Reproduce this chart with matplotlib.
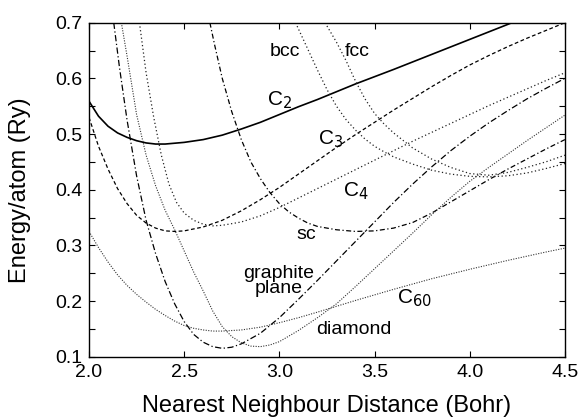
import matplotlib.pyplot as plt
from matplotlib.ticker import MultipleLocator

plt.rcParams['font.family'] = ['Liberation Sans', 'DejaVu Sans']

# C2 dimer (solid)
x_c2 = [2.00, 2.05, 2.10, 2.15, 2.20, 2.25, 2.30, 2.35, 2.40, 2.50, 2.60, 2.70, 2.80,
        2.90, 3.00, 3.10, 3.20, 3.40, 3.60, 3.80, 4.00, 4.20, 4.30]
y_c2 = [0.559, 0.532, 0.514, 0.502, 0.494, 0.488, 0.484, 0.482, 0.482, 0.485, 0.490,
        0.498, 0.509, 0.521, 0.535, 0.549, 0.562, 0.590, 0.616, 0.643, 0.670, 0.697, 0.711]

# C3 (dashed)
x_c3 = [2.00, 2.05, 2.10, 2.15, 2.20, 2.25, 2.30, 2.35, 2.40, 2.45, 2.50, 2.60, 2.70,
        2.80, 2.90, 3.00, 3.10, 3.20, 3.30, 3.40, 3.50, 3.60, 3.70, 3.80, 3.90, 4.00,
        4.10, 4.20, 4.30, 4.40, 4.50]
y_c3 = [0.530, 0.478, 0.437, 0.402, 0.375, 0.354, 0.340, 0.331, 0.326, 0.325, 0.326,
        0.333, 0.345, 0.362, 0.382, 0.404, 0.428, 0.452, 0.476, 0.499, 0.521, 0.543,
        0.564, 0.585, 0.605, 0.624, 0.641, 0.657, 0.672, 0.686, 0.700]

# C4 (dotted)
x_c4 = [2.265, 2.30, 2.34, 2.38, 2.42, 2.46, 2.50, 2.55, 2.60, 2.65, 2.70, 2.80, 2.90,
        3.00, 3.10, 3.20, 3.30, 3.40, 3.50, 3.60, 3.70, 3.80, 3.90, 4.00, 4.10, 4.20,
        4.30, 4.40, 4.50]
y_c4 = [0.700, 0.610, 0.530, 0.462, 0.410, 0.377, 0.358, 0.345, 0.338, 0.335, 0.336,
        0.342, 0.353, 0.368, 0.385, 0.402, 0.419, 0.436, 0.453, 0.470, 0.487, 0.503,
        0.519, 0.535, 0.551, 0.566, 0.581, 0.596, 0.610]

# simple cubic (dash-dot)
x_sc = [2.635, 2.66, 2.70, 2.75, 2.80, 2.85, 2.90, 2.95, 3.00, 3.05, 3.10, 3.15, 3.20,
        3.30, 3.40, 3.50, 3.60, 3.70, 3.80, 3.90, 4.00, 4.10, 4.20, 4.30, 4.40, 4.50]
y_sc = [0.700, 0.660, 0.600, 0.540, 0.490, 0.450, 0.420, 0.395, 0.375, 0.360, 0.349,
        0.340, 0.334, 0.328, 0.325, 0.326, 0.331, 0.341, 0.358, 0.378, 0.398, 0.418,
        0.437, 0.455, 0.473, 0.490]

# graphite plane (dash-dot)
x_gr = [2.13, 2.16, 2.20, 2.25, 2.30, 2.35, 2.40, 2.45, 2.50, 2.55, 2.60, 2.65, 2.70,
        2.75, 2.80, 2.90, 3.00, 3.10, 3.20, 3.30, 3.40, 3.50, 3.60, 3.70, 3.80, 3.90,
        4.00, 4.10, 4.20, 4.30, 4.40, 4.50]
y_gr = [0.700, 0.620, 0.525, 0.425, 0.345, 0.285, 0.235, 0.195, 0.163, 0.140, 0.126,
        0.118, 0.115, 0.117, 0.123, 0.142, 0.170, 0.203, 0.237, 0.272, 0.307, 0.342,
        0.377, 0.410, 0.441, 0.470, 0.496, 0.520, 0.542, 0.563, 0.582, 0.600]

# diamond (fine dots)
x_dia = [2.17, 2.20, 2.25, 2.30, 2.35, 2.40, 2.45, 2.50, 2.55, 2.60, 2.65, 2.70, 2.75,
         2.80, 2.85, 2.90, 2.95, 3.00, 3.10, 3.20, 3.30, 3.40, 3.50, 3.60, 3.70, 3.80,
         3.90, 4.00, 4.10, 4.20, 4.30, 4.40, 4.50]
y_dia = [0.700, 0.640, 0.535, 0.462, 0.407, 0.363, 0.328, 0.290, 0.252, 0.218, 0.182,
         0.154, 0.136, 0.125, 0.119, 0.118, 0.121, 0.127, 0.147, 0.170, 0.195, 0.226,
         0.258, 0.290, 0.322, 0.355, 0.386, 0.415, 0.440, 0.464, 0.488, 0.511, 0.534]

# C60 (fine dots)
x_c60 = [2.00, 2.05, 2.10, 2.15, 2.20, 2.25, 2.30, 2.35, 2.40, 2.45, 2.50, 2.55, 2.60,
         2.65, 2.70, 2.80, 2.90, 3.00, 3.10, 3.20, 3.40, 3.60, 3.80, 4.00, 4.20, 4.40, 4.50]
y_c60 = [0.325, 0.296, 0.270, 0.247, 0.228, 0.212, 0.198, 0.185, 0.174, 0.164, 0.156,
         0.151, 0.148, 0.146, 0.146, 0.148, 0.153, 0.161, 0.170, 0.180, 0.201, 0.221,
         0.240, 0.257, 0.273, 0.288, 0.295]

# bcc (dots)
x_bcc = [3.085, 3.15, 3.20, 3.25, 3.30, 3.35, 3.40, 3.45, 3.50, 3.55, 3.60, 3.70, 3.80,
         3.90, 4.00, 4.10, 4.20, 4.30, 4.40, 4.50]
y_bcc = [0.700, 0.652, 0.615, 0.580, 0.550, 0.526, 0.507, 0.491, 0.478, 0.468, 0.459,
         0.446, 0.435, 0.428, 0.424, 0.423, 0.425, 0.430, 0.438, 0.447]

# fcc (dots)
x_fcc = [3.24, 3.30, 3.35, 3.40, 3.45, 3.50, 3.55, 3.60, 3.70, 3.80, 3.90, 4.00, 4.10,
         4.20, 4.30, 4.40, 4.50]
y_fcc = [0.700, 0.665, 0.632, 0.595, 0.563, 0.537, 0.518, 0.502, 0.475, 0.455, 0.440,
         0.429, 0.426, 0.431, 0.440, 0.450, 0.462]

fig = plt.figure(figsize=(5.79, 4.18), dpi=100)
ax = fig.add_axes([0.1537, 0.1467, 0.822, 0.799])

ax.plot(x_c2, y_c2, color='black', lw=1.2, linestyle='-')
ax.plot(x_c3, y_c3, color='black', lw=0.9, linestyle=(0, (3, 2)))
ax.plot(x_c4, y_c4, color='#222222', lw=0.9, linestyle=(0, (1, 2)))
ax.plot(x_sc, y_sc, color='black', lw=0.9, linestyle=(0, (4, 2, 1, 2)))
ax.plot(x_gr, y_gr, color='black', lw=0.9, linestyle=(0, (5, 2, 1, 2)))
ax.plot(x_dia, y_dia, color='#333333', lw=0.8, linestyle=(0, (1, 1.3)))
ax.plot(x_c60, y_c60, color='#333333', lw=0.8, linestyle=(0, (1, 1.3)))
ax.plot(x_bcc, y_bcc, color='#222222', lw=0.9, linestyle=(0, (1, 2)))
ax.plot(x_fcc, y_fcc, color='#222222', lw=0.9, linestyle=(0, (1, 2)))

fs = 14
ax.text(3.03, 0.648, 'bcc', fontsize=fs, ha='center', va='center')
ax.text(3.41, 0.648, 'fcc', fontsize=fs, ha='center', va='center')
ax.text(3.00, 0.561, r'C$_2$', fontsize=fs + 1, ha='center', va='center')
ax.text(3.27, 0.490, r'C$_3$', fontsize=fs + 1, ha='center', va='center')
ax.text(3.40, 0.398, r'C$_4$', fontsize=fs + 1, ha='center', va='center')
ax.text(3.14, 0.319, 'sc', fontsize=fs, ha='center', va='center')
ax.text(2.995, 0.236, 'graphite\nplane', fontsize=fs, ha='center', va='center',
        linespacing=0.8)
ax.text(3.71, 0.205, r'C$_{60}$', fontsize=fs + 1, ha='center', va='center')
ax.text(3.39, 0.149, 'diamond', fontsize=fs, ha='center', va='center')

ax.set_xlim(2.0, 4.5)
ax.set_ylim(0.1, 0.7)
ax.xaxis.set_major_locator(MultipleLocator(0.5))
ax.yaxis.set_major_locator(MultipleLocator(0.1))
ax.yaxis.set_minor_locator(MultipleLocator(0.05))
ax.xaxis.set_major_formatter(plt.FormatStrFormatter('%.1f'))
ax.yaxis.set_major_formatter(plt.FormatStrFormatter('%.1f'))
ax.tick_params(which='both', direction='in', top=True, right=True, length=4,
               width=0.8, labelsize=14, pad=5)
for s in ax.spines.values():
    s.set_linewidth(1.0)

ax.set_xlabel('Nearest Neighbour Distance (Bohr)', fontsize=17, labelpad=10)
ax.set_ylabel('Energy/atom (Ry)', fontsize=17, labelpad=17)

fig.savefig('out.png', dpi=100)
